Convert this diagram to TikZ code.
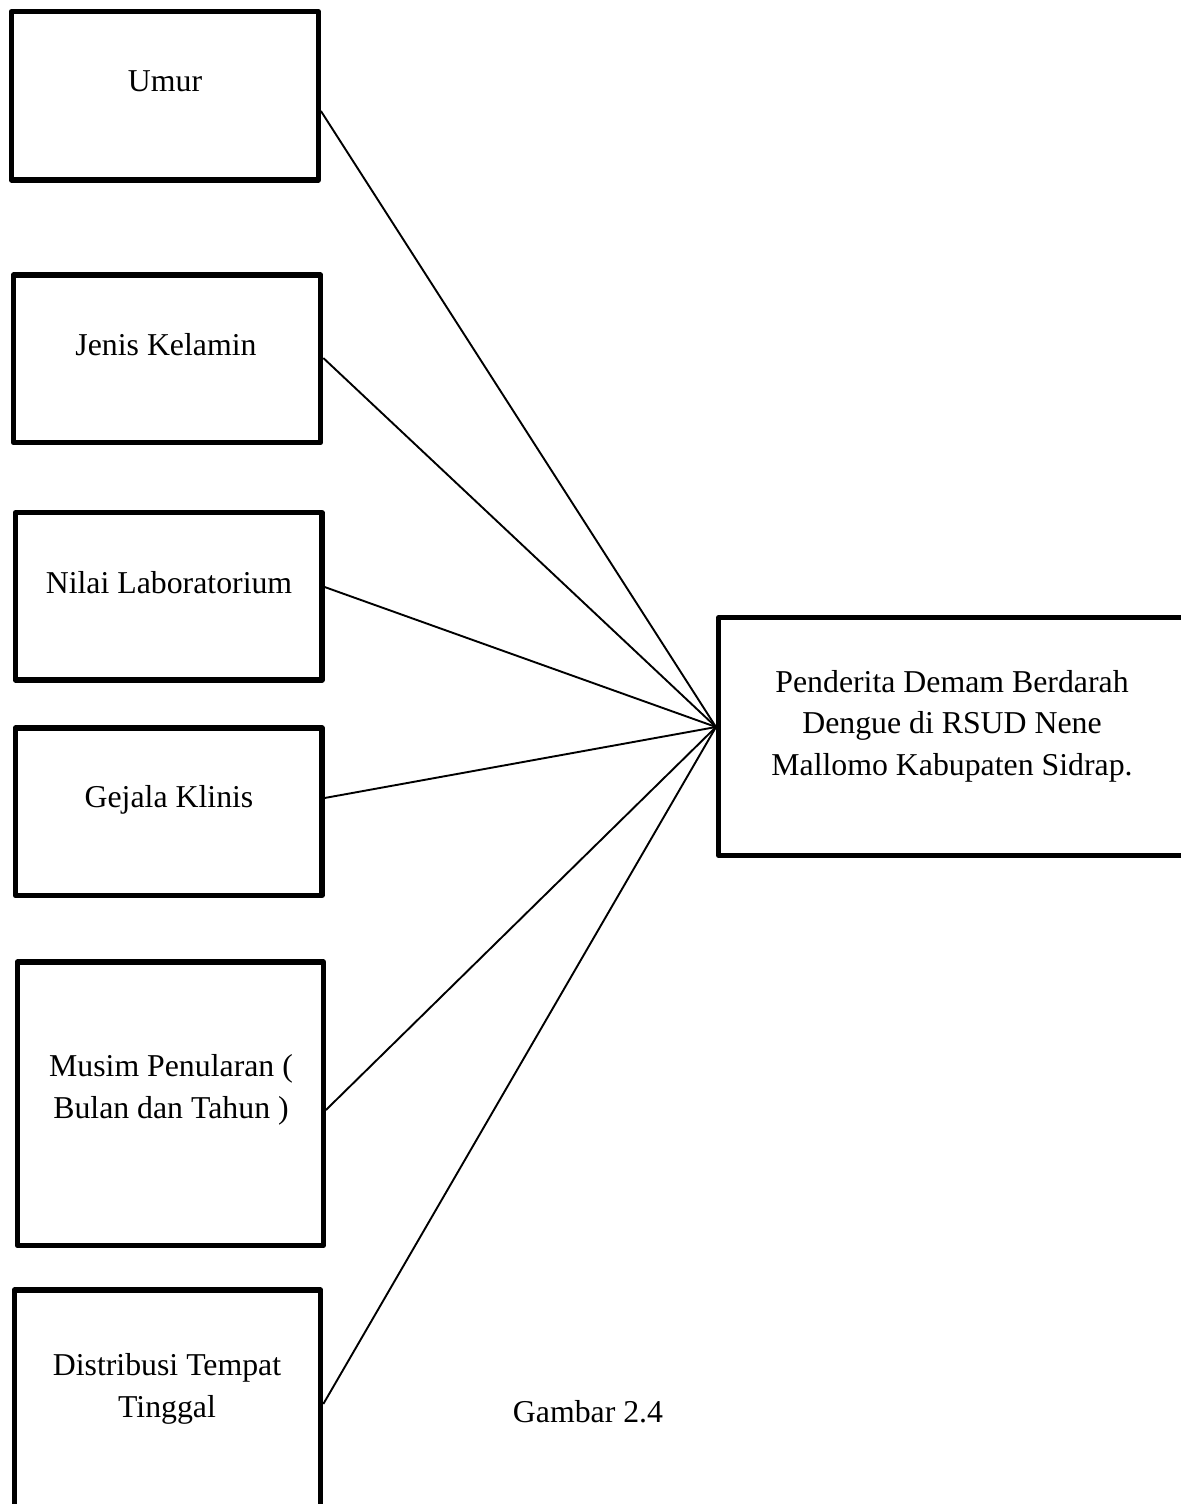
\documentclass[tikz,border=0pt]{standalone}
\usepackage{fontspec}
\setmainfont{Liberation Serif}
\usetikzlibrary{calc}
\begin{document}
\begin{tikzpicture}[x=0.5pt,y=-0.5pt,
  box/.style={draw=black, line width=2.6pt, rectangle, inner sep=0pt, line join=round},
  txt/.style={font=\fontsize{15.9}{20.6}\selectfont, align=center, inner sep=0pt, anchor=base},
  conn/.style={draw=black, line width=0.95pt}]
\useasboundingbox (0,0) rectangle (1181,1504);
\clip (0,0) rectangle (1181,1504);
% boxes
\node[box, minimum width=153.5pt, minimum height=84.15pt] (b1) at (164.8,95.85) {};
\node[box, minimum width=153.7pt, minimum height=83.85pt] (b2) at (167,358.85) {};
\node[box, minimum width=153.35pt, minimum height=83.65pt] (b3) at (168.65,596.35) {};
\node[box, minimum width=153.35pt, minimum height=83.75pt] (b4) at (168.65,811.75) {};
\node[box, minimum width=153pt, minimum height=141.75pt] (b5) at (170.3,1103.75) {};
\node[box, minimum width=153.25pt, minimum height=120pt] (b6) at (167.45,1410) {};
\node[box, minimum width=240.6pt, minimum height=119pt] (r) at (959.4,736.5) {};
% texts (multi-line nodes: base = baseline of last line)
\node[txt] (t1) at (165,92) {Umur};
\node[txt] (t2) at (166,355) {Jenis Kelamin};
\node[txt] (t3) at (169,593) {Nilai Laboratorium};
\node[txt] (t4) at (169,807) {Gejala Klinis};
\node[txt] (t5) at (171,1118) {Musim Penularan (\\Bulan dan Tahun )};
\node[txt] (t6) at (167,1417) {Distribusi Tempat\\Tinggal};
\node[txt] (tr) at (952,775) {Penderita Demam Berdarah\\Dengue di RSUD Nene\\Mallomo Kabupaten Sidrap.};
\node[txt] (cap) at (588,1422) {Gambar 2.4};
% connectors
\coordinate (hub) at (716,727);
\draw[conn] (b1.east |- 0,111) -- (hub);
\draw[conn] (b2.east |- 0,358) -- (hub);
\draw[conn] (b3.east |- 0,587) -- (hub);
\draw[conn] (b4.east |- 0,798) -- (hub);
\draw[conn] (b5.east |- 0,1110) -- (hub);
\draw[conn] (b6.east |- 0,1404) -- (hub);
\end{tikzpicture}
\end{document}
